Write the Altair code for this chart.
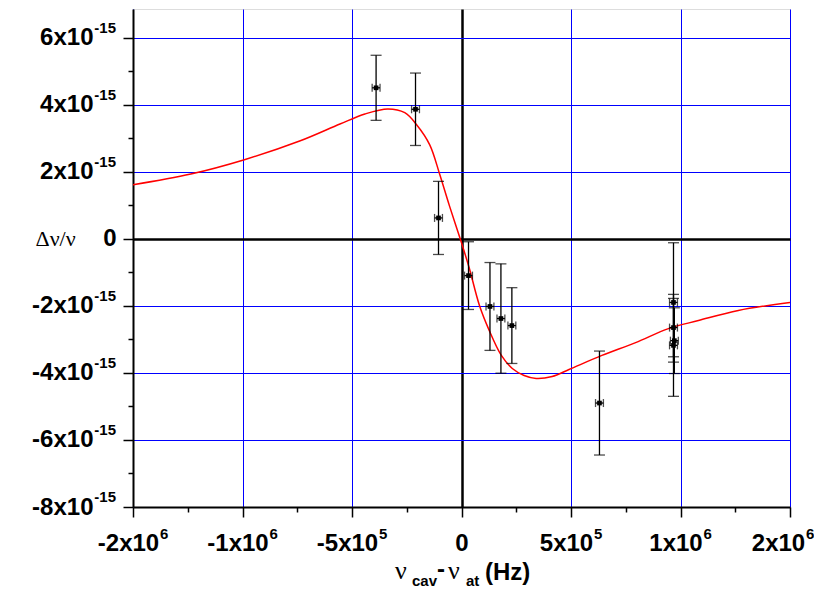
import json
import altair as alt
import pandas as pd

# ---- data (x in units of 1e5 Hz, y in units of 1e-15) ----
pt_x = [-3.9, -2.1, -1.05, 0.32, 1.3, 1.8, 2.3, 6.3, 9.68, 9.68, 9.72, 9.68]
pt_y = [4.50, 3.86, 0.62, -1.10, -2.02, -2.38, -2.59, -4.90, -1.90, -2.65, -3.04, -3.18]
pt_yerr = [0.97, 1.08, 1.09, 1.01, 1.31, 1.63, 1.13, 1.55, 1.78, 0.87, 0.98, 1.52]
pt_xerr = [0.18, 0.18, 0.18, 0.18, 0.18, 0.18, 0.18, 0.18, 0.18, 0.18, 0.18, 0.18]

curve_x = [-15.0, -12.36, -9.95, -7.36, -5.55, -4.41, -3.36, -2.59, -2.05, -1.45, -1.0,
           -0.55, 0.0, 0.36, 0.82, 1.27, 1.82, 2.32, 2.86, 3.41, 4.14, 4.91, 6.41,
           7.95, 9.45, 10.82, 12.64, 15.0]
curve_y = [1.61, 1.93, 2.35, 2.92, 3.42, 3.72, 3.87, 3.76, 3.40, 2.80, 1.93,
           0.98, -0.12, -0.89, -1.99, -2.74, -3.48, -3.87, -4.08, -4.17, -4.11, -3.90, -3.48,
           -3.10, -2.68, -2.44, -2.14, -1.90]

x_major = [-15, -10, -5, 0, 5, 10, 15]
x_base = ["-2x10", "-1x10", "-5x10", "0", "5x10", "1x10", "2x10"]
x_exp = ["6", "6", "5", "", "5", "6", "6"]
x_minor = [-12.5, -7.5, -2.5, 2.5, 7.5, 12.5]
y_major = [-8, -6, -4, -2, 0, 2, 4, 6]
y_base = ["-8x10", "-6x10", "-4x10", "-2x10", "0", "2x10", "4x10", "6x10"]
y_exp = ["-15", "-15", "-15", "-15", "", "-15", "-15", "-15"]
y_minor = [-7, -5, -3, -1, 1, 3, 5]

# ---- tables ----
pts = pd.DataFrame({"x": pt_x, "y": pt_y, "ye": pt_yerr, "xe": pt_xerr})
pts["ylo"] = pts.y - pts.ye
pts["yhi"] = pts.y + pts.ye
pts["xlo"] = pts.x - pts.xe
pts["xhi"] = pts.x + pts.xe
vcaps = pd.DataFrame({"x": list(pts.x) * 2, "y": list(pts.ylo) + list(pts.yhi)})
hcaps = pd.DataFrame({"x": list(pts.xlo) + list(pts.xhi), "y": list(pts.y) * 2})
curve = pd.DataFrame({"x": curve_x, "y": curve_y})
xexp_df = pd.DataFrame({"x": x_major, "e": x_exp})
yexp_df = pd.DataFrame({"y": y_major, "e": y_exp})

SANS = "Liberation Sans"
SERIF = "Liberation Serif"


def lab_expr(vals, labs):
    return "(" + json.dumps(labs, ensure_ascii=False) + ")[indexof(" + json.dumps(vals) + \
        ", datum.value)] || ''"


def common_axis(major_test, **kw):
    return alt.Axis(
        grid=True,
        gridColor={"condition": {"test": "datum.value === 0", "value": "#000000"}, "value": "#0000ff"},
        gridWidth={"condition": {"test": "datum.value === 0", "value": 2.5}, "value": 1},
        gridOpacity={"condition": {"test": major_test, "value": 1}, "value": 0},
        tickSize={"condition": {"test": major_test, "value": 10}, "value": 5},
        tickColor="#000000", tickWidth=1.5,
        domainColor="#000000", domainWidth=2,
        labelFont=SANS, labelFontSize=24, labelFontWeight="bold", labelColor="#000000",
        labelFlush=False, labelOverlap=False, labelBound=False, **kw)


x_axis = common_axis("datum.value % 5 === 0",
                     values=sorted(x_major + x_minor), labelExpr=lab_expr(x_major, x_base),
                     labelPadding=14,
                     labelOffset={"condition": [
                         {"test": "datum.value === 0", "value": 0},
                         {"test": "datum.value === 15", "value": -12}],
                         "value": -5},
                     title=None)
y_axis = common_axis("datum.value % 2 === 0",
                     values=sorted(y_major + y_minor), labelExpr=lab_expr(y_major, y_base),
                     labelPadding={"condition": {"test": "datum.value === 0", "value": 7},
                                   "value": 30},
                     title="Δν/ν", titleAngle=0, titleFont=SERIF,
                     titleFontSize=22, titleFontWeight="normal", titleColor="#000000",
                     titleAlign="left", titleBaseline="middle", titleX=-98, titleY=229)

xs = alt.Scale(domain=[-15, 15], nice=False, zero=False)
ys = alt.Scale(domain=[-8, 6.85], nice=False, zero=False)


def X(f):
    return alt.X(f, type="quantitative", scale=xs, axis=x_axis)


def Y(f):
    return alt.Y(f, type="quantitative", scale=ys, axis=y_axis)


line = alt.Chart(curve).mark_line(color="#ff0000", strokeWidth=1.5, interpolate="catmull-rom",
                                  clip=True).encode(x=X("x"), y=Y("y"))
vbar = alt.Chart(pts).mark_rule(color="#000000", strokeWidth=1.3).encode(
    x=X("x"), y=Y("ylo"), y2="yhi")
hbar = alt.Chart(pts).mark_rule(color="#000000", strokeWidth=1.3).encode(
    x=X("xlo"), x2="xhi", y=Y("y"))
vcap = alt.Chart(vcaps).mark_tick(color="#000000", orient="horizontal", size=11,
                                  thickness=1.3).encode(x=X("x"), y=Y("y"))
hcap = alt.Chart(hcaps).mark_tick(color="#000000", orient="vertical", size=8,
                                  thickness=1.3).encode(x=X("x"), y=Y("y"))
dots = alt.Chart(pts).mark_square(color="#000000", size=22, opacity=1).encode(x=X("x"), y=Y("y"))

# exponents of the tick labels (superscripts)
exp_style = dict(font=SANS, fontSize=15, fontWeight="bold", color="#000000",
                 baseline="alphabetic")
xexp_neg = alt.Chart(xexp_df).transform_filter("datum.e != '' && datum.x < 0").mark_text(
    align="left", dx=27, **exp_style).encode(x=X("x"), y=alt.value(530), text="e:N")
xexp_pos = alt.Chart(xexp_df).transform_filter(
    "datum.e != '' && datum.x > 0 && datum.x < 15").mark_text(
    align="left", dx=23, **exp_style).encode(x=X("x"), y=alt.value(530), text="e:N")
xexp_end = alt.Chart(xexp_df).transform_filter("datum.x == 15").mark_text(
    align="left", dx=16, **exp_style).encode(x=X("x"), y=alt.value(530), text="e:N")
yexp = alt.Chart(yexp_df).transform_filter("datum.e != ''").mark_text(
    align="right", dy=-5, **exp_style).encode(x=alt.value(-17), y=Y("y"), text="e:N")

one = pd.DataFrame({"a": [0]})


def txt(s, x, y, font, size, weight="normal"):
    return alt.Chart(one).mark_text(text=s, font=font, fontSize=size, fontWeight=weight,
                                    align="left", baseline="alphabetic", color="#000000").encode(
        x=alt.value(x), y=alt.value(y))


title_parts = [
    txt("ν", 262, 570, SERIF, 26),
    txt("cav", 279, 577, SANS, 15, "bold"),
    txt("-", 304, 568, SANS, 24, "bold"),
    txt("ν", 315, 570, SERIF, 26),
    txt("at", 333, 577, SANS, 15, "bold"),
    txt("(Hz)", 352, 571, SANS, 24, "bold"),
]

chart = alt.layer(line, vbar, hbar, vcap, hcap, dots, xexp_neg, xexp_pos, xexp_end, yexp,
                  *title_parts).properties(
    width=657, height=498,
    autosize=alt.AutoSizeParams(type="none"),
    padding={"left": 125, "top": 1, "right": 24, "bottom": 84},
).configure_view(stroke="#000000", strokeWidth=2).configure(background="#ffffff")

chart.save("out.html", embed_options={"renderer": "svg", "actions": False})
